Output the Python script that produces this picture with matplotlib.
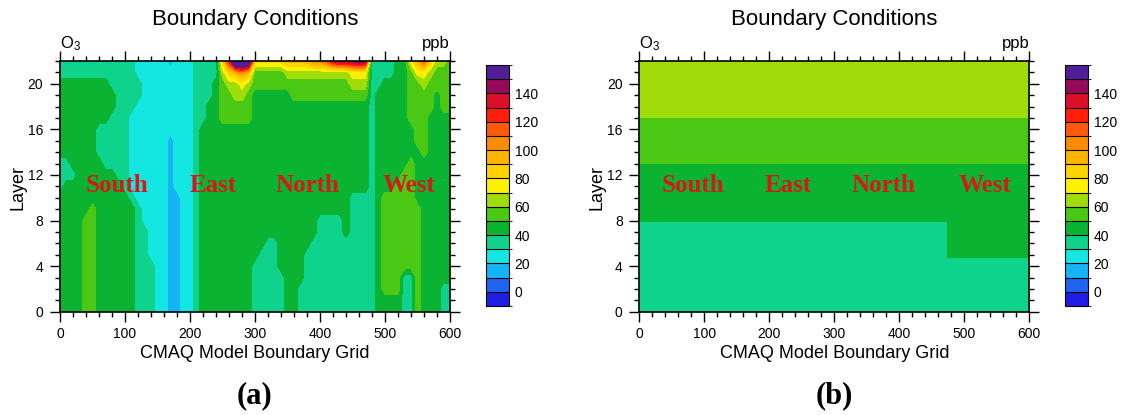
import matplotlib
matplotlib.use('Agg')
import matplotlib.pyplot as plt
import numpy as np
from matplotlib.colors import ListedColormap, BoundaryNorm
from matplotlib.cm import ScalarMappable
from matplotlib.ticker import MultipleLocator

plt.rcParams['font.family'] = ['Liberation Sans', 'DejaVu Sans']
plt.rcParams['mathtext.default'] = 'regular'

# one colour per 10 ppb band, from -10 up to 160
band_colors = ['#1e1ee6', '#1e64f0', '#14b4f5', '#14e6e1', '#0fd28c', '#0ab432',
               '#4bc814', '#a0dc0a', '#fff000', '#ffd200', '#ffb400', '#ff8c00',
               '#ff5a0a', '#ff1e0a', '#dc0f28', '#960a5a', '#501e96']
band_edges = np.arange(-10, 170, 10)
cbar_ticks = [0, 20, 40, 60, 80, 100, 120, 140]

# (a) O3 along the boundary grid.
# grid nodes every 10 cells (0..600) and every layer (22 down to 0);
# each code is the ppb band: int(code, 36) * 10 + 5, "c*n" repeats a code n times
grid_x = np.arange(0, 610, 10)
layers_a = np.arange(0, 23)
o3_a_rows = [
    "3*12 2*5 1 2*3 3*4 8 c j j h 8*5 9*4 a*2 b d e*3 f e 3*4 4*2 7 9 b 8 6 6 5",   # 22
    "3*12 2*9 3*4 6 8 9 a 9 5*5 6*10 7*3 3*4 4*2 5 7 7 6 5 5 5",                    # 21
    "4*8 3*5 2*8 3*3 4 5 6 6 7 6 5*15 6*3 3*2 4*4 5 5 6 5 5 5 5",                   # 20
    "4*9 3*4 2*8 3*3 4 5 5 6 6 5 4*6 5*12 3 4*5 5 5 5 5 4 5 5",                     # 19
    "4*9 3*3 2*9 3*2 4*2 5*5 4*18 3 4*5 5 5 5 5 4 5 5",                             # 18
    "4*8 3*3 2*10 3*2 4*2 5*5 4*18 3 4*5 5 5 5 4*4",                                # 17
    "4*6 3*5 2*10 3 4*26 3 4*6 5 5 4*4",                                            # 16
    "4*6 3*5 2*6 1 2*3 3 4*26 3 4*6 5 5 4*4",                                       # 15
    "4*6 3*5 2*6 1 2*3 3 4*26 3 4*7 5 4*4",                                         # 14
    "3*2 4*5 3*4 2*6 1 2*3 3 4*26 3 4*5 5 4*6",                                     # 13
    "3*3 4*6 3*2 2*6 1 2*3 3 4*26 3 4*4 5*2 4*6",                                   # 12
    "3 4*9 3 2*6 1 2*3 3 4*26 3 4*3 5*3 4*6",                                       # 11
    "4*11 3 2*5 1*2 2*2 3 4*23 3*4 4 5*5 4*6",                                      # 10
    "4*5 5 4*6 3 2*4 1*2 2*2 3 4*23 3*4 4 5*6 4*5",                                 # 9
    "4*4 5*2 4*6 3 2*4 1*2 2*2 3 4*18 3*4 4 3*4 4 5*6 4*5",                         # 8
    "4*4 5*2 4*6 3*2 2*3 1*2 2*2 3 4*18 3*4 4 3*4 4 5*6 4*5",                       # 7
    "4*4 5*2 4*6 3*2 2*3 1*2 2*2 3 4*10 3*2 4*5 3*10 4 5*6 4*5",                    # 6
    "4*4 5*2 4*6 3*2 2*3 1*2 2*2 3 4*9 3*3 4*4 3*11 4 5*6 4*5",                     # 5
    "4*4 5*2 4*6 3*3 2*2 1*2 2*2 3 4*8 3*4 4*4 3*11 4 5*6 4*5",                     # 4
    "4*4 5*2 4*6 3*3 2*2 1*2 2*2 3 4*8 3*5 4*3 3*11 4 5*3 3*2 5 4*5",               # 3
    "4*4 5*2 4*6 3*3 2*2 1*2 2*2 3 4*8 3*5 4*2 3*12 4 5*3 3*2 5 4*3 3*2",           # 2
    "4*4 5*2 4*6 3*3 2*2 1*2 2*2 3 4*8 3*5 4*2 3*12 4*4 3*2 5 4*3 3*2",             # 1
    "4*4 5*2 4*6 3*3 2*2 1*2 2*2 3 4*8 3*5 4*2 3*12 4*4 3*2 5 4*3 3*2",             # 0
]

# (b) boundary conditions: uniform layers, west side differs below layer 8
bc_x_edges = [0, 474, 600]
bc_layer_edges = [0, 4.7, 7.9, 13.0, 17.0, 22.0]
o3_b = [[35, 35],
        [35, 45],
        [45, 45],
        [55, 55],
        [65, 65]]

region_names = ['South', 'East', 'North', 'West']
region_x_a = [88, 236, 380, 537]
region_x_b = [83, 229, 375, 532]


def decode(row):
    codes = ''
    for tok in row.split():
        if '*' in tok:
            c, n = tok.split('*')
            codes += c * int(n)
        else:
            codes += tok
    return [int(c, 36) * 10 + 5 for c in codes]


o3_a = np.array([decode(r) for r in o3_a_rows[::-1]], dtype=float)

cmap = ListedColormap(band_colors)
norm = BoundaryNorm(band_edges, cmap.N)
fill_levels = [-1000] + list(range(0, 160, 10)) + [1000]

W, H = 1122, 415
fig = plt.figure(figsize=(W / 100, H / 100), dpi=100)


def px_box(x0, y0, x1, y1):
    return [x0 / W, 1 - y1 / H, (x1 - x0) / W, (y1 - y0) / H]


ax1 = fig.add_axes(px_box(60, 61, 450, 311.7))
ax2 = fig.add_axes(px_box(639.3, 61, 1029.3, 311.7))
cax1 = fig.add_axes(px_box(486, 65, 509, 306))
cax2 = fig.add_axes(px_box(1065, 65, 1088, 306))

ax1.contourf(grid_x, layers_a, o3_a, levels=fill_levels, colors=band_colors)
ax2.pcolormesh(bc_x_edges, bc_layer_edges, o3_b, cmap=cmap, norm=norm)

for ax, names_x, x0, tag in ((ax1, region_x_a, 60, '(a)'), (ax2, region_x_b, 639.3, '(b)')):
    ax.set_xlim(0, 600)
    ax.set_ylim(0, 22)
    ax.xaxis.set_major_locator(MultipleLocator(100))
    ax.xaxis.set_minor_locator(MultipleLocator(20))
    ax.yaxis.set_major_locator(MultipleLocator(4))
    ax.yaxis.set_minor_locator(MultipleLocator(1))
    ax.tick_params(which='both', direction='out', top=True, right=True,
                   labelsize=10, width=1)
    ax.tick_params(which='major', length=7)
    ax.tick_params(which='minor', length=3.5)
    ax.tick_params(axis='y', pad=5)
    ax.tick_params(axis='x', pad=4)
    for sp in ax.spines.values():
        sp.set_linewidth(1.2)

    for name, x in zip(region_names, names_x):
        ax.text(x, 11.1, name, ha='center', va='center', color='#d81818',
                family='Liberation Serif', weight='bold', fontsize=18)

    cx = x0 + 195
    fig.text(cx / W, 1 - 20 / H, 'Boundary Conditions', ha='center', va='center', fontsize=16)
    fig.text(x0 / W, 1 - 48 / H, 'O$_3$', ha='left', va='baseline', fontsize=12)
    fig.text((x0 + 390) / W, 1 - 48 / H, 'ppb', ha='right', va='baseline', fontsize=12)
    fig.text((x0 - 42) / W, 1 - 187 / H, 'Layer', ha='center', va='center',
             rotation=90, fontsize=13)
    fig.text(cx / W, 1 - 353 / H, 'CMAQ Model Boundary Grid', ha='center', va='center',
             fontsize=13)
    fig.text(cx / W, 1 - 396 / H, tag, ha='center', va='center', fontsize=22,
             family='Liberation Serif', weight='bold')

for cax in (cax1, cax2):
    cb = fig.colorbar(ScalarMappable(norm=norm, cmap=cmap), cax=cax,
                      ticks=cbar_ticks, drawedges=True)
    cb.ax.tick_params(length=0, labelsize=10, pad=4)
    cb.outline.set_linewidth(0.8)
    cb.dividers.set_linewidth(0.8)

fig.savefig('out.png', dpi=100)
